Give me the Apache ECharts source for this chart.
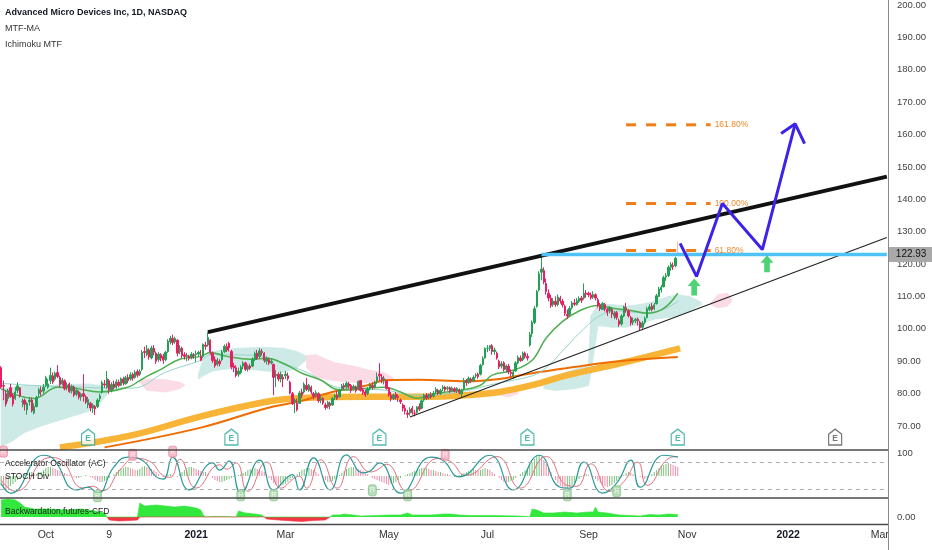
<!DOCTYPE html>
<html><head><meta charset="utf-8">
<script src="https://cdn.jsdelivr.net/npm/echarts/dist/echarts.min.js"></script>
<style>html,body{margin:0;padding:0;background:#fff}#c{width:932px;height:550px}</style>
</head><body><div id="c"></div><script>
// ---------- calendar (trading days) ----------
const startDate = '2020-09-03', endDate = '2022-03-04';
const holidays = ['2020-09-07','2020-11-26','2020-12-25','2021-01-01','2021-01-18','2021-02-15','2021-04-02','2021-05-31','2021-07-05','2021-09-06','2021-11-25','2021-12-24','2022-01-17','2022-02-21'];
const categories = [];
for (let d = new Date(startDate + 'T00:00:00Z'); d <= new Date(endDate + 'T00:00:00Z'); d.setUTCDate(d.getUTCDate() + 1)) {
  const wd = d.getUTCDay(), s = d.toISOString().slice(0, 10);
  if (wd === 0 || wd === 6 || holidays.includes(s)) continue;
  categories.push(s);
}
const tickDates = ['2020-10-01','2020-11-09','2021-01-04','2021-03-01','2021-05-03','2021-07-01','2021-09-01','2021-11-01','2022-01-03','2022-03-01'];
const tickLabels = ['Oct','9','2021','Mar','May','Jul','Sep','Nov','2022','Mar'];
const priceTicks = [70,80,90,100,110,120,130,140,150,160,170,180,190,200];

// ---------- daily candles [open, close, low, high] ----------
const ohlc = [
// Sep 2020
[88.0,82.0,81.5,88.5],[82.5,82.3,78.0,84.0],[80.0,76.8,76.0,81.0],[78.5,80.9,77.5,81.5],[81.8,79.1,78.7,83.0],[79.5,76.8,76.0,80.0],[78.5,80.5,78.0,82.0],[81.0,82.4,80.2,83.5],[81.8,79.3,78.8,82.0],[77.5,77.6,75.8,78.5],
[78.0,76.7,74.8,78.5],[75.0,77.0,73.5,77.5],[77.5,78.0,76.3,79.0],[78.0,74.7,74.2,78.8],[74.0,76.0,73.6,77.0],[76.0,78.8,75.8,79.3],[80.0,81.2,79.0,81.8],[81.0,80.6,79.4,82.2],[80.8,82.0,80.0,83.0],
// Oct 2020
[82.5,84.9,82.0,85.5],[82.0,83.0,81.5,84.5],[84.0,85.6,83.0,88.0],[85.5,83.6,83.0,86.5],[84.5,86.3,84.0,86.8],[86.5,85.3,84.8,88.8],[85.0,82.8,82.0,85.6],[83.0,84.2,82.5,84.8],[84.0,81.5,81.0,84.4],[82.0,82.6,81.0,83.5],
[83.0,80.6,80.2,83.4],[80.8,82.3,80.0,82.8],[82.0,79.5,79.0,82.5],[79.8,81.0,79.2,81.8],[80.5,78.9,78.2,81.0],[79.0,79.8,77.8,80.3],[80.0,79.2,77.5,86.0],[79.0,77.4,76.8,79.5],[76.5,78.2,75.5,79.0],[77.0,75.6,74.5,77.5],
[75.5,76.3,74.0,77.0],[76.0,75.3,73.4,76.5],
// Nov 2020
[76.0,78.0,75.5,78.5],[78.5,79.3,77.5,80.0],[80.5,83.4,80.0,84.0],[83.0,82.7,81.8,84.2],[82.0,84.6,81.5,87.0],[84.0,81.2,80.0,84.5],[81.0,82.8,80.4,83.5],[83.0,81.9,81.2,84.0],[82.0,83.7,81.5,84.4],[83.5,82.5,82.0,84.3],
[82.6,84.6,82.3,85.0],[84.5,83.3,82.5,85.2],[83.0,84.9,82.8,85.5],[85.0,84.0,83.2,86.0],[84.5,85.8,84.0,86.6],[86.0,84.8,84.0,86.5],[85.0,86.6,84.6,87.2],[86.8,85.7,85.0,87.5],[86.0,86.9,85.4,87.5],[87.5,92.7,87.0,93.5],
// Dec 2020
[93.0,92.7,91.0,94.5],[92.0,93.8,91.5,95.0],[93.5,91.3,90.5,94.0],[91.0,94.1,90.6,94.8],[94.0,92.8,91.8,95.0],[92.5,90.0,89.2,93.0],[90.5,92.2,89.8,92.8],[92.0,91.0,90.0,92.5],[91.5,90.3,89.2,92.3],[90.5,92.8,90.0,93.2],
[93.0,96.2,92.6,96.8],[96.0,97.1,95.2,97.8],[97.0,95.8,95.0,98.2],[96.0,97.0,95.4,97.6],[96.5,92.5,91.5,96.8],[93.0,94.0,92.2,95.0],[94.0,91.8,91.0,94.5],[92.0,91.5,90.5,92.8],[91.5,91.8,90.0,92.6],[91.6,90.9,90.2,92.0],
[91.0,92.2,90.6,92.8],[92.0,91.7,90.8,92.5],
// Jan 2021
[92.0,92.3,89.8,93.3],[92.2,92.8,91.4,93.2],[91.5,90.3,90.0,93.5],[91.5,95.2,91.0,95.5],[95.0,94.6,93.5,96.0],[95.0,97.3,94.5,99.0],[96.5,92.8,92.0,96.8],[92.5,90.2,89.5,93.0],[90.5,88.6,88.0,91.5],[89.0,90.4,88.5,91.0],
[90.0,89.2,88.4,90.6],[90.5,92.8,90.0,93.5],[93.0,94.6,92.5,95.2],[94.5,93.5,92.8,95.5],[95.5,94.1,93.0,96.0],[93.0,88.2,87.5,93.5],[88.5,87.9,86.6,89.5],[88.0,85.6,85.0,88.8],[86.0,87.0,85.2,88.0],
// Feb 2021
[86.5,88.2,86.0,88.8],[88.5,89.4,87.5,90.0],[89.5,87.5,87.0,89.8],[87.6,88.5,86.8,89.0],[88.5,87.9,87.3,89.2],[88.5,90.6,88.2,91.2],[90.5,92.4,90.0,93.0],[92.5,91.0,90.4,93.5],[91.5,93.2,91.0,94.0],[93.0,92.7,91.8,93.8],
[92.5,90.3,89.6,92.8],[90.0,90.9,89.0,91.5],[90.5,89.4,88.8,91.0],[89.5,90.0,89.0,90.8],[89.0,85.0,79.5,89.3],[85.5,86.0,82.0,87.2],[86.0,84.5,83.8,86.6],[84.5,86.0,83.5,86.8],[85.0,84.5,82.0,86.0],
// Mar 2021
[85.5,86.0,84.5,87.0],[85.5,84.6,84.0,86.5],[83.5,80.2,79.8,84.0],[80.0,76.9,76.5,80.5],[77.5,78.0,74.0,78.5],[77.0,75.0,74.5,78.5],[77.0,80.2,76.8,80.8],[80.5,79.5,78.6,81.5],[80.5,82.9,80.0,83.5],[82.5,81.3,80.8,84.8],
[81.0,82.6,80.5,83.0],[82.0,80.5,79.8,82.5],[80.0,79.2,78.2,80.5],[79.5,80.3,78.8,81.0],[80.0,77.8,77.2,80.4],[78.0,78.4,77.0,79.5],[78.5,77.1,76.5,79.0],[76.5,75.7,75.0,77.2],[76.0,77.3,75.4,77.8],[77.0,76.3,75.2,77.5],
[76.5,78.5,76.2,79.0],[78.8,79.4,78.0,80.0],[79.5,78.5,78.0,80.8],
// Apr 2021
[79.0,81.1,78.8,81.5],[81.5,82.4,81.0,83.0],[82.5,82.0,81.2,83.2],[82.0,83.2,81.5,83.8],[83.0,82.3,81.6,83.6],[82.5,81.0,80.2,83.0],[81.5,82.2,81.0,82.8],[82.0,80.9,80.3,82.5],[81.5,83.8,81.0,84.0],[84.0,81.0,80.6,84.2],
[81.2,80.3,79.6,81.8],[80.5,79.6,79.0,81.2],[80.0,81.4,79.5,82.0],[81.5,82.8,81.0,83.3],[82.5,82.0,81.2,83.5],[82.0,83.5,81.6,84.0],[83.8,85.2,83.0,86.5],[86.0,85.5,84.0,89.4],[85.0,84.1,83.2,86.0],[84.0,84.7,82.8,85.5],
[84.0,81.6,81.2,84.2],
// May 2021
[81.8,79.6,79.0,82.0],[79.5,78.4,77.6,80.5],[78.5,79.6,78.0,80.0],[79.8,78.8,78.2,80.5],[79.0,78.8,77.5,79.8],[78.0,77.5,76.8,78.5],[76.5,75.5,74.5,77.0],[75.5,74.6,73.6,76.5],[74.0,73.6,72.5,75.0],[74.0,75.1,73.2,75.8],
[75.5,74.2,73.5,76.2],[74.0,74.0,73.0,75.0],[74.2,75.8,73.8,76.2],[76.0,75.2,74.6,77.0],[75.5,77.8,75.2,78.2],[78.0,79.5,77.5,80.0],[79.5,78.6,78.0,80.2],[78.8,79.4,78.2,80.0],[79.5,79.0,78.4,80.4],[79.2,80.1,78.8,80.8],
// Jun 2021
[80.5,81.3,80.0,82.0],[81.0,80.1,79.5,81.5],[80.0,81.0,79.6,81.5],[81.5,82.0,80.8,82.6],[82.0,81.2,80.6,82.4],[81.5,81.8,80.9,82.3],[81.8,80.9,80.2,82.2],[81.0,81.7,80.5,82.2],[81.5,80.8,80.4,82.0],[80.8,81.6,80.2,82.0],
[81.2,80.4,79.8,81.6],[80.0,81.0,78.8,81.5],[81.5,84.0,81.0,84.8],[84.0,83.4,82.4,84.5],[83.5,84.7,83.0,85.3],[84.5,84.0,83.2,85.0],[84.0,85.0,83.6,85.6],[85.5,85.8,84.8,86.3],[86.0,85.2,84.6,86.5],[86.0,88.7,85.6,89.2],
[89.0,90.8,88.6,91.5],[91.0,93.9,90.8,94.3],
// Jul 2021
[94.0,94.0,92.8,95.0],[94.0,94.8,93.2,95.0],[94.8,93.0,92.0,95.3],[93.0,93.5,92.0,94.2],[92.5,91.0,90.5,93.0],[90.0,88.2,87.6,90.5],[88.5,89.2,87.8,90.0],[89.5,87.4,86.8,90.0],[87.5,88.6,86.5,89.0],[88.5,86.8,86.0,89.2],
[86.5,86.2,85.0,87.5],[85.5,86.6,84.5,87.0],[87.0,89.5,86.8,90.0],[89.5,91.2,89.0,91.8],[91.0,90.2,89.8,91.8],[90.5,92.5,90.0,93.0],[92.5,91.5,90.8,93.0],[91.5,91.0,90.2,92.4],[95.0,98.2,94.5,99.0],[98.5,102.0,97.5,102.6],
[102.0,106.2,101.5,107.0],
// Aug 2021
[107.0,111.5,106.5,112.0],[112.0,117.0,111.5,117.8],[117.5,118.5,115.0,122.5],[118.0,114.5,113.8,119.0],[114.0,111.5,110.6,115.5],[111.0,109.5,108.5,112.2],[109.5,107.2,106.5,110.5],[107.5,108.6,106.8,109.5],[108.5,107.5,106.8,110.0],[107.5,109.8,107.0,110.6],
[109.5,108.6,107.8,110.2],[108.5,107.4,106.6,109.2],[107.0,104.8,104.0,107.5],[104.5,104.0,103.0,106.0],[104.5,106.3,104.0,107.0],[106.5,108.0,106.0,108.6],[108.0,107.6,107.0,109.2],[107.5,108.7,107.2,109.5],[108.5,109.4,108.0,110.0],[109.5,108.8,108.0,110.2],
[109.5,111.0,109.0,114.0],[111.0,110.7,109.6,112.0],
// Sep 2021
[111.0,110.5,109.8,111.5],[110.5,109.6,109.0,111.2],[109.8,110.6,109.2,111.6],[110.5,109.5,108.8,111.0],[109.0,107.2,106.6,109.5],[107.5,106.2,105.5,108.0],[106.0,107.8,105.8,108.3],[107.5,106.1,105.4,108.0],[106.0,105.1,104.0,106.5],[105.5,106.5,104.8,107.0],
[106.0,104.6,103.3,106.4],[104.0,104.9,103.0,105.5],[105.0,103.5,102.8,105.5],[102.5,101.4,100.6,103.2],[101.5,104.0,101.0,104.5],[104.0,106.8,103.6,107.2],[106.5,105.8,105.0,108.0],[105.5,104.0,103.5,106.0],[103.5,101.8,101.0,104.0],[102.0,102.6,101.2,103.5],
[102.5,102.9,101.8,103.4],
// Oct 2021
[103.0,102.5,101.0,103.5],[102.0,100.3,99.6,102.5],[100.5,101.8,100.0,102.4],[102.0,103.2,101.4,103.8],[103.5,106.2,103.2,106.8],[106.0,106.8,105.5,107.6],[107.0,106.0,105.4,108.0],[106.2,107.4,105.8,108.0],[107.8,110.2,107.5,110.8],[110.0,112.3,109.8,113.0],
[112.0,112.8,111.2,113.5],[113.0,115.8,112.8,116.4],[116.0,116.4,114.8,117.2],[116.5,119.0,116.0,119.6],[119.0,119.9,118.0,120.6],[119.5,119.2,118.2,120.5],[119.5,121.8,119.0,122.3],[123.5,122.93,122.5,127.0]
];
const lastPrice = 122.93;

// ---------- overlays, x = bar index ----------
const greenMA = [[0,81.5],[14,78.5],[24,82],[31,81.7],[42,80.5],[54,82],[59,84],[63,85.7],[68,87.5],[76,90.6],[85,91.5],[89,92.7],[96,91.5],[106,90.6],[113,90.9],[121,89],[128,86.3],[136,84.2],[143,81.3],[148,81.1],[156,81.7],[163,82],[170,80.5],[177,78.6],[184,80],[195,81],[204,82.6],[209,85.7],[218,87.2],[226,90.3],[232,97.2],[239,102.3],[246,105.5],[254,107.2],[261,106.3],[268,105.7],[275,104.8],[282,106.3],[288,111]];
const lightMA = [[0,83.2],[14,82.5],[33,82],[42,81.8],[56,81.7],[70,86.6],[85,90.3],[89,92],[106,91.9],[128,87.2],[145,81.7],[163,81.1],[177,79.5],[195,80.5],[210,83],[226,85.5],[232,88],[240,94],[248,100],[256,104.5],[264,105.5],[272,105],[280,105.5],[288,108.5]];
const orangeMA = [[44,63.4],[85,69.5],[113,75.5],[127,77.6],[141,80.5],[156,82.6],[164,84.2],[178,84.3],[198,83.8],[212,84.5],[226,86.3],[241,87.9],[263,90],[288,91.3]];
const yellowMA = [[25,63.4],[56,67.2],[85,73],[113,77.5],[127,78.6],[156,79],[178,79],[198,79.5],[212,80.5],[226,82.6],[241,85.7],[263,89.3],[289,94]];
// Ichimoku cloud pieces [x, low, high]
const cloudTealA = [[0,63.6,81.5],[5,65.5,82],[10,68,82.5],[17,70,82.5],[28,72.5,82.8],[37,74.5,83],[42,77,82.5],[46,80.5,81.5]];
const cloudPinkA = [[59,83.5,84],[62,81,84.5],[70,80.5,84.3],[76,81.5,83.5],[78,82.5,82.8]];
const cloudTealB = [[84,84.5,86],[86,85.5,91],[90,87,93],[100,88,94],[112,87,94.3],[120,86.5,94],[126,88,93],[130,90.5,91.5]];
const cloudPinkB = [[130,88,91.8],[134,85,92],[142,84,89.5],[150,83.5,88.5],[157,83.3,87.2],[163,83.5,86.5],[167,84,84.8]];
const cloudPinkC = [[212,79.5,81],[216,79,81.5],[220,80,80.8]];
const cloudTealC = [[231,81.5,82.5],[236,81,85.5],[244,81.5,87.5],[250,82.5,89],[251,86,104],[254,101,107.5],[260,100.5,107.5],[266,100.5,107],[272,101.5,107.5],[278,103,108.5],[284,103.5,110],[288,104,110.5],[293,105.5,110],[298,107.5,108.2]];
const cloudPinkD = [[302,107.5,108],[305,106.5,110.5],[309,107,111],[311,108.5,109.5]];
// drawings
const resistanceLine = [[88,99.0],[377,147.0]];
const supportLine = [[174,72.8],[377,128.2]];
const peakLevel = [[230,122.93],[377,122.93]];
const fibLevels = [{label:'161.80%', price:163.0},{label:'100.00%', price:138.7},{label:'61.80%', price:124.2}];
const fibSpan = [266, 302];
const projectionPath = [[289,126.4],[296,116.2],[307,138.7],[324,124.5],[338,163.3]];
const projectionHead = [[332,160.3],[338,163.3],[342,157.2]];
const buyArrows = [[295,112.9],[326,120.1]];
const earnings = [[37,66.6],[98,66.6],[161,66.6],[224,66.6],[288,66.6],[355,66.6]];

// ---------- oscillator pane ----------
const acValues = [
-0.5,-0.6,-0.7,-0.6,-0.5,-0.4,
-0.3,-0.2,-0.1,0,0.1,0.1,0.2,0.2,0.1,0.1,0.2,0.2,
0.3,0.4,0.45,0.45,0.4,0.35,0.3,0.25,0.2,0.15,0.1,
0.05,0,-0.05,-0.1,-0.1,-0.05,0,0.05,0,-0.05,-0.1,-0.2,-0.25,-0.3,
-0.3,-0.25,-0.2,-0.1,
0,0.1,0.2,0.3,0.35,0.4,0.45,0.45,0.4,0.35,0.3,0.3,0.35,0.45,0.5,0.45,0.4,0.35,0.3,0.2,0.1,
0,-0.05,0,0.05,0.1,0.05,0,-0.05,
0.1,0.2,0.3,0.4,0.45,0.45,0.4,0.35,0.3,0.25,0.2,0.2,
0.1,0,-0.1,-0.2,-0.25,-0.3,-0.3,-0.25,-0.2,-0.15,-0.1,
-0.05,0,0.05,0.1,0.15,0.2,
0.3,0.35,0.4,0.4,0.35,0.3,0.25,0.2,0.1,
-0.1,-0.2,-0.35,-0.45,-0.5,-0.5,-0.45,-0.4,-0.3,-0.2,
-0.1,0,0.1,0.2,0.3,0.35,0.4,0.4,0.35,0.3,0.2,0.1,
0,-0.1,-0.2,-0.3,-0.3,-0.25,-0.15,-0.05,
0.05,0.15,0.25,0.35,0.4,0.45,0.45,0.4,0.35,0.3,0.25,0.2,0.1,
0,-0.1,-0.15,-0.2,-0.25,-0.3,-0.35,-0.4,-0.45,-0.4,-0.35,-0.3,-0.2,-0.1,
0,0.05,0.1,0.15,0.2,0.25,0.3,0.35,0.4,0.4,0.4,0.35,0.3,0.3,0.25,0.2,0.2,0.15,0.1,0.1,0.05,
0,-0.05,0,0.05,0.1,0.15,0.2,0.25,
0.3,0.35,0.3,0.25,0.3,0.35,0.4,0.35,0.3,0.2,0.1,
0,-0.1,-0.2,-0.3,-0.35,-0.3,-0.25,-0.2,-0.1,0,
0.1,0.2,0.3,0.4,0.55,0.7,0.85,1.0,1.05,0.95,0.8,0.6,0.4,
0.2,0,-0.2,-0.35,-0.5,-0.6,-0.7,-0.65,-0.55,-0.45,-0.35,-0.25,-0.15,
-0.05,0.05,0.1,0.05,0,-0.05,
-0.15,-0.25,-0.35,-0.45,-0.5,-0.55,-0.5,-0.45,-0.35,-0.25,-0.15,
-0.05,0.05,0.15,0.2,0.15,0.1,0.05,0,
-0.05,-0.1,-0.15,-0.1,0,
0.1,0.2,0.3,0.4,0.5,0.55,0.6,0.65,0.6,0.55,0.5,0.45
];
const stochK = [[0,33],[4,11],[18,95],[22,88],[32,18],[37,24],[41,11],[48,69],[54,91],[60,84],[66,47],[69,42],[73,91],[80,18],[90,78],[93,62],[97,82],[102,11],[110,84],[116,18],[122,47],[124,52],[127,18],[133,89],[140,18],[147,96],[154,56],[157,60],[161,78],[170,11],[183,91],[188,84],[195,47],[208,95],[218,18],[229,95],[238,24],[242,22],[248,80],[256,11],[262,33],[268,84],[272,24],[282,95],[288,91]];
const stochD = [[0,40],[6,15],[21,90],[25,86],[35,22],[39,26],[43,16],[51,65],[57,88],[63,82],[69,50],[72,46],[76,86],[83,22],[93,74],[96,64],[100,78],[105,15],[113,80],[119,22],[125,45],[127,48],[130,22],[136,85],[143,22],[150,92],[157,58],[160,62],[164,75],[173,15],[186,88],[191,82],[198,50],[211,92],[221,22],[232,92],[241,28],[245,26],[251,76],[259,15],[265,36],[271,80],[275,28],[285,90],[288,92]];
const bearishR = [[1,103],[56,96],[73,103],[189,96]];
const bullishR = [[41,4],[102,6],[116,6],[158,17],[173,6],[241,6],[262,15]];

// ---------- bottom pane ----------
const cfdUp = [[0,17],[3,18],[6,17],[8,14],[10,10],[14,8],[21,8],[28,7],[34,8],[40,6],[44,4],[45,0],[58,0],[59,14],[61,11],[66,12],[70,11],[74,10],[78,11],[83,9],[85,7],[86,2],[87,0],[90,0.6],[95,0.6],[100,0],[101,6],[104,4],[108,3],[111,2],[112,0],[140,0],[141,2],[144,2],[146,3],[150,2],[153,1],[160,1.5],[165,2],[170,2],[173,4],[175,2],[183,2],[188,3],[191,3],[195,2],[200,1.5],[210,1.5],[220,1],[224,0.5],[225,0],[226,8],[228,7],[229,6],[231,4],[235,4],[240,5],[245,4],[250,5],[252,5],[253,10],[254,5],[258,4],[263,2],[268,1.5],[272,1],[276,2.5],[280,2],[284,3],[288,2.5]];
const cfdDown = [[45,0],[46,-3],[50,-4],[55,-3.5],[58,-3],[59,0],[112,0],[113,-2],[118,-3],[124,-4],[128,-4.5],[133,-3.5],[138,-3],[140,0]];

// ---------- build ----------
const FONT = "'Liberation Sans',Arial,sans-serif";
const UP = '#22a053', DOWN = '#e91e63';
function quads(band){ const out=[]; for(let i=0;i<band.length-1;i++){ const a=band[i], b=band[i+1]; out.push([a[0],a[1],a[2],b[0],b[1],b[2]]); } return out; }
function cloud(band, color){
  return { type:'custom', xAxisIndex:0, yAxisIndex:0, silent:true, z:1, clip:true,
    encode:{x:[0,3], y:[1,2,4,5]},
    renderItem:(p, api)=>{
      const a=api.coord([api.value(0),api.value(2)]), b=api.coord([api.value(3),api.value(5)]),
            c=api.coord([api.value(3),api.value(4)]), d=api.coord([api.value(0),api.value(1)]);
      return {type:'polygon', shape:{points:[a,b,c,d]}, style:{fill:color, stroke:color, lineWidth:0.8}};
    }, data: quads(band) };
}
const TEAL_CLOUD = '#cdeae6', PINK_CLOUD = '#fbdbe5';
function ln(data, color, width, extra){ return Object.assign({type:'line', xAxisIndex:0, yAxisIndex:0, data, symbol:'none', silent:true, lineStyle:{color, width}, z:3}, extra||{}); }

const candleData = ohlc.map((v,i)=> i===ohlc.length-1 ? {value:v, itemStyle:{color:'#f4b3c6', color0:'#f4b3c6', borderColor:'#f4b3c6', borderColor0:'#f4b3c6'}} : v);
const acData = acValues.map((v,i)=>({value:[i,v], itemStyle:{color: (i===0||v>=acValues[i-1]) ? '#79c27c' : '#ef8ca6'}}));
const lastCandleIdx = ohlc.length-1;

const series = [
  cloud(cloudTealA, TEAL_CLOUD), cloud(cloudPinkA, PINK_CLOUD), cloud(cloudTealB, TEAL_CLOUD), cloud(cloudPinkB, PINK_CLOUD),
  cloud(cloudPinkC, PINK_CLOUD), cloud(cloudTealC, TEAL_CLOUD), cloud(cloudPinkD, PINK_CLOUD),
  ln(yellowMA, '#f7b436', 6.5, {smooth:0.4, z:2}),
  ln(orangeMA, '#ef6c00', 2, {smooth:0.4, z:2}),
  ln(lightMA, '#95d5cb', 1, {smooth:0.4, z:2}),
  ln(greenMA, '#4caf50', 1.5, {smooth:0.4, z:2}),
  { type:'candlestick', xAxisIndex:0, yAxisIndex:0, data:candleData, barWidth:'80%', z:4,
    itemStyle:{color:UP, color0:DOWN, borderColor:UP, borderColor0:DOWN, borderWidth:1} },
  ln(resistanceLine, '#111111', 4, {z:5}),
  ln(supportLine, '#222222', 1.2, {z:5}),
  ln(peakLevel, '#4fc3f7', 3.5, {z:5, endLabel:{show:true, formatter:String(lastPrice), distance:2, backgroundColor:'#a9a9a9', color:'#111', padding:[3,7,2,7], fontSize:10, fontFamily:FONT}}),
];
fibLevels.forEach(f=>{
  series.push(ln([[fibSpan[0],f.price],[fibSpan[1],f.price]], '#ef7d1a', 3, {z:5, lineStyle:{color:'#ef7d1a', width:3, type:[10,10]},
    endLabel:{show:true, formatter:f.label, distance:4, color:'#ef8a2c', fontSize:8.5, fontFamily:FONT}}));
});
series.push(ln(projectionPath, '#3d23e8', 3, {z:6}));
series.push(ln(projectionHead, '#3d23e8', 3, {z:6}));
series.push({ type:'scatter', xAxisIndex:0, yAxisIndex:0, data:buyArrows, silent:true, z:6,
  symbol:'path://M6,0 L12,7 L8.6,7 L8.6,16 L3.4,16 L3.4,7 L0,7 Z', symbolSize:[13,17], itemStyle:{color:'#1ec853'} });
series.push({ type:'scatter', xAxisIndex:0, yAxisIndex:0, silent:true, z:6,
  symbol:'path://M0,5 L6,0 L12,5 L12,16 L0,16 Z', symbolSize:[13,16],
  data: earnings.map(e=>{ const fut = e[0] > lastCandleIdx; const col = fut ? '#555' : '#26a69a';
    return {value:e, itemStyle:{color:'#fff', borderColor:col, borderWidth:1.3}, label:{show:true, formatter:'E', color:col, fontSize:8.5, fontWeight:'bold', position:'inside', offset:[0,2]}}; }) });
// oscillator
series.push({ type:'bar', xAxisIndex:1, yAxisIndex:2, data:acData, barWidth:1, silent:true, z:2 });
series.push({ type:'line', xAxisIndex:1, yAxisIndex:1, data:stochD, symbol:'none', smooth:0.5, silent:true, z:3, lineStyle:{color:'#e0707c', width:1} });
series.push({ type:'line', xAxisIndex:1, yAxisIndex:1, data:stochK, symbol:'none', smooth:0.5, silent:true, z:4, lineStyle:{color:'#2a9a96', width:1.2},
  markLine:{silent:true, symbol:'none', label:{show:false}, lineStyle:{color:'#b0b0b0', type:[4,4], width:1}, data:[{yAxis:80},{yAxis:20}]} });
series.push({ type:'scatter', xAxisIndex:1, yAxisIndex:1, data:bearishR, silent:true, z:5, symbol:'roundRect', symbolSize:[8,11],
  itemStyle:{color:'#f5a9bb', borderColor:'#e67d96', borderWidth:0.8}, label:{show:true, formatter:'R', color:'#fff', fontSize:7, position:'inside'} });
series.push({ type:'scatter', xAxisIndex:1, yAxisIndex:1, data:bullishR, silent:true, z:5, symbol:'roundRect', symbolSize:[8,11],
  itemStyle:{color:'#a5d6a7', borderColor:'#7cbf80', borderWidth:0.8}, label:{show:true, formatter:'R', color:'#fff', fontSize:7, position:'inside'} });
// bottom pane
series.push({ type:'line', xAxisIndex:2, yAxisIndex:3, data:cfdUp, symbol:'none', silent:true, lineStyle:{color:'#2fe33a', width:0.6}, areaStyle:{color:'#33e83d', opacity:1} });
series.push({ type:'line', xAxisIndex:2, yAxisIndex:3, data:cfdDown, symbol:'none', silent:true, lineStyle:{color:'#f23645', width:0.6}, areaStyle:{color:'#f23645', opacity:1} });

const hiddenX = (g)=>({type:'category', gridIndex:g, data:categories, boundaryGap:true, axisLine:{show:false}, axisTick:{show:false}, axisLabel:{show:false}, splitLine:{show:false}});
const lbl = (text, top, size, weight, color)=>({text, left:5, top, padding:0, textStyle:{fontSize:size, fontWeight:weight, color, fontFamily:FONT}});
const option = {
  animation:false, backgroundColor:'#ffffff',
  title:[
    lbl('Advanced Micro Devices Inc, 1D, NASDAQ', 8, 9, 'bold', '#131722'),
    lbl('MTF-MA', 24, 9, 'normal', '#333'),
    lbl('Ichimoku MTF', 40, 9, 'normal', '#333'),
    lbl('Accelerator Oscillator (AC)', 459, 8.5, 'normal', '#222'),
    lbl('STOCH Div', 472, 8.5, 'normal', '#222'),
    lbl('Backwardation,futures-CFD', 507, 8.5, 'normal', '#222')
  ],
  grid:[
    {left:0, right:44, top:4, height:454.4},
    {left:0, right:44, top:450, height:48},
    {left:0, right:44, top:498, height:26}
  ],
  xAxis:[ hiddenX(0), hiddenX(1),
    {type:'category', gridIndex:2, data:categories, boundaryGap:true, axisLine:{show:false}, axisTick:{show:false}, splitLine:{show:false},
     axisLabel:{show:true, interval:(i,v)=>tickDates.includes(v), hideOverlap:false, margin:6, color:'#333', fontSize:10.5, fontFamily:FONT,
       formatter:(v)=>{ const k=tickDates.indexOf(v); const t=tickLabels[k]||''; return /^\d{4}$/.test(t) ? '{b|'+t+'}' : t; },
       rich:{b:{fontWeight:'bold', fontSize:10.5, color:'#131722', fontFamily:FONT}}}}
  ],
  yAxis:[
    {type:'value', gridIndex:0, position:'right', min:60, max:200, interval:10, axisLine:{show:false}, axisTick:{show:false}, splitLine:{show:false},
     axisLabel:{margin:9, color:'#444', fontSize:9.5, fontFamily:FONT, formatter:(v)=> priceTicks.includes(v) ? v.toFixed(2) : ''}},
    {type:'value', gridIndex:1, position:'right', min:0, max:106.67, interval:20, axisLine:{show:false}, axisTick:{show:false}, splitLine:{show:false},
     axisLabel:{margin:9, color:'#444', fontSize:9.5, fontFamily:FONT, formatter:(v)=> v===100 ? '100' : ''}},
    {type:'value', gridIndex:1, position:'right', min:-1.1, max:1.3, show:false, splitLine:{show:false}},
    {type:'value', gridIndex:2, position:'right', min:-7, max:19, interval:7, axisLine:{show:false}, axisTick:{show:false}, splitLine:{show:false},
     axisLabel:{margin:9, color:'#444', fontSize:9.5, fontFamily:FONT, formatter:(v)=> v===0 ? '0.00' : ''}}
  ],
  graphic:[
    {type:'line', z:100, shape:{x1:0, y1:450, x2:888, y2:450}, style:{stroke:'#4a4a4a', lineWidth:1.5}},
    {type:'line', z:100, shape:{x1:0, y1:498, x2:888, y2:498}, style:{stroke:'#4a4a4a', lineWidth:1.5}},
    {type:'line', z:100, shape:{x1:0, y1:524.5, x2:888, y2:524.5}, style:{stroke:'#4a4a4a', lineWidth:1.5}},
    {type:'line', z:100, shape:{x1:888.5, y1:0, x2:888.5, y2:550}, style:{stroke:'#8a8a8a', lineWidth:1}}
  ],
  series
};
const chart = echarts.init(document.getElementById('c'));
chart.setOption(option);
</script></body></html>
